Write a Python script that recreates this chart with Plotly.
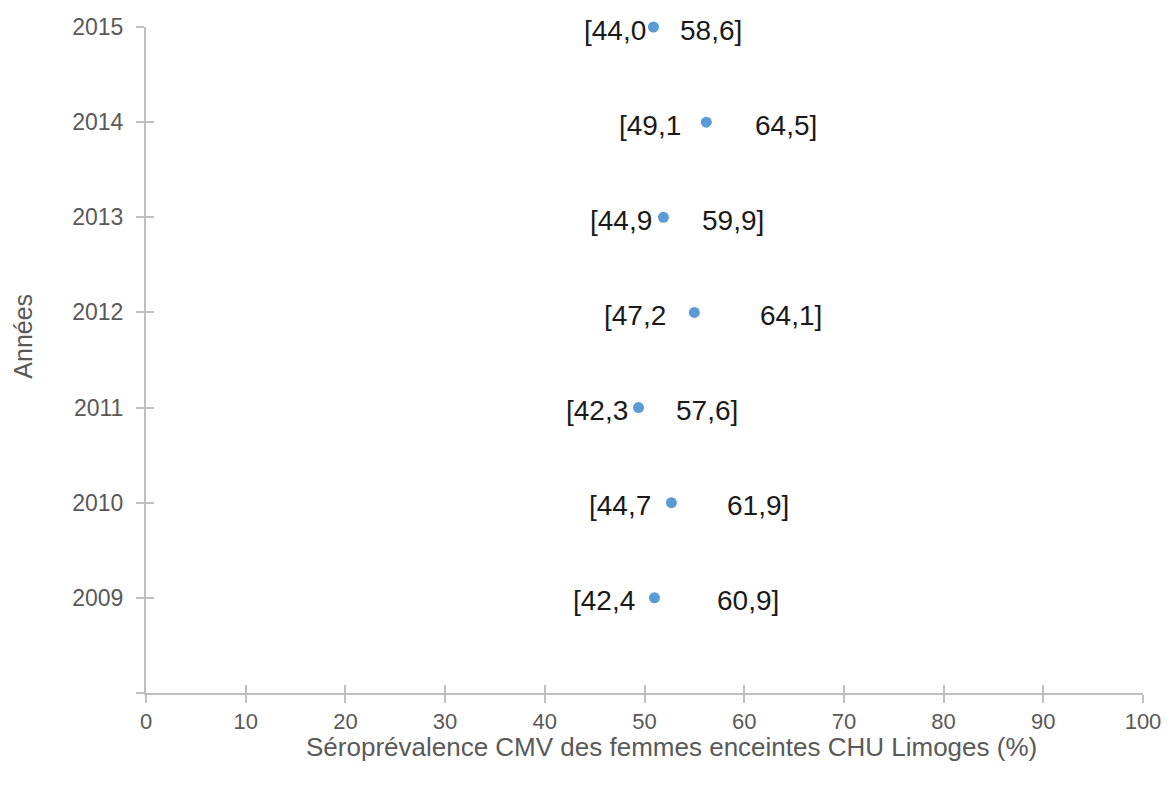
import plotly.graph_objects as go

# Séroprévalence CMV par année, avec intervalle de confiance à 95 %
years = [2009, 2010, 2011, 2012, 2013, 2014, 2015]
prevalence = [51.0, 52.7, 49.4, 55.0, 51.9, 56.2, 50.9]
ci_low = ["42,4", "44,7", "42,3", "47,2", "44,9", "49,1", "44,0"]
ci_high = ["60,9", "61,9", "57,6", "64,1", "59,9", "64,5", "58,6"]

x_ticks = list(range(0, 101, 10))
y_ticks = list(range(2008, 2016))
y_ticktext = [""] + [str(y) for y in y_ticks[1:]]

# horizontal pixel gaps between each point and its two interval labels
gap_left = [20, 21, 12, 29, 12, 26, 8]
gap_right = [64, 57, 38, 67, 40, 50, 28]

AXIS_COLOR = "#BFBFBF"
TEXT_GRAY = "#595959"
FONT = "Liberation Sans, Arial, sans-serif"

fig = go.Figure()
fig.add_trace(go.Scatter(
    x=prevalence, y=years, mode="markers",
    marker=dict(color="#5B9BD5", size=11),
    cliponaxis=False, showlegend=False, hoverinfo="x+y",
))

annotations = []
for yr, p, lo, hi, gl, gr in zip(years, prevalence, ci_low, ci_high, gap_left, gap_right):
    annotations.append(dict(
        x=p, y=yr, xref="x", yref="y", text="[" + lo, showarrow=False,
        xanchor="right", yanchor="middle", xshift=-gl + 3, yshift=-3,
        font=dict(family=FONT, size=28, color="#1a1a1a"),
    ))
    annotations.append(dict(
        x=p, y=yr, xref="x", yref="y", text=hi + "]", showarrow=False,
        xanchor="left", yanchor="middle", xshift=gr - 3, yshift=-3,
        font=dict(family=FONT, size=28, color="#1a1a1a"),
    ))

annotations.append(dict(
    x=0.527, y=0, xref="paper", yref="paper", yshift=-54,
    text="Séroprévalence CMV des femmes enceintes CHU Limoges (%)",
    showarrow=False, xanchor="center", yanchor="middle",
    font=dict(family=FONT, size=26, color=TEXT_GRAY),
))
annotations.append(dict(
    x=0, y=0.535, xref="paper", yref="paper", xshift=-123,
    text="Années", textangle=-90,
    showarrow=False, xanchor="center", yanchor="middle",
    font=dict(family=FONT, size=25, color=TEXT_GRAY),
))

common = dict(showgrid=False, zeroline=False, showline=True,
              linecolor=AXIS_COLOR, linewidth=2, automargin=False,
              tickcolor=AXIS_COLOR, tickwidth=2, ticklen=8)

fig.update_layout(
    width=1167, height=787,
    margin=dict(l=146, r=24, t=27, b=94, autoexpand=False),
    plot_bgcolor="white", paper_bgcolor="white",
    font=dict(family=FONT, color=TEXT_GRAY),
    xaxis=dict(range=[0, 100], tickvals=x_ticks, ticks="outside",
               tickfont=dict(size=22, color=TEXT_GRAY), **common),
    yaxis=dict(range=[2008, 2015], tickvals=y_ticks, ticktext=y_ticktext,
               ticks="outside", ticklabelstandoff=8,
               tickfont=dict(size=23, color=TEXT_GRAY), **common),
    # twin axes provide the inner half of the crossing tick marks
    xaxis2=dict(range=[0, 100], tickvals=x_ticks, ticks="inside", overlaying="x",
                side="bottom", anchor="y", showticklabels=False, **common),
    yaxis2=dict(range=[2008, 2015], tickvals=y_ticks, ticks="inside", overlaying="y",
                side="left", anchor="x", showticklabels=False, **common),
    annotations=annotations,
)

# invisible trace to bring the twin axes into the layout
fig.add_trace(go.Scatter(x=[prevalence[0]], y=[years[0]], xaxis="x2", yaxis="y2",
                         mode="markers", marker=dict(opacity=0), showlegend=False,
                         hoverinfo="skip"))

fig.write_html("out.html")
